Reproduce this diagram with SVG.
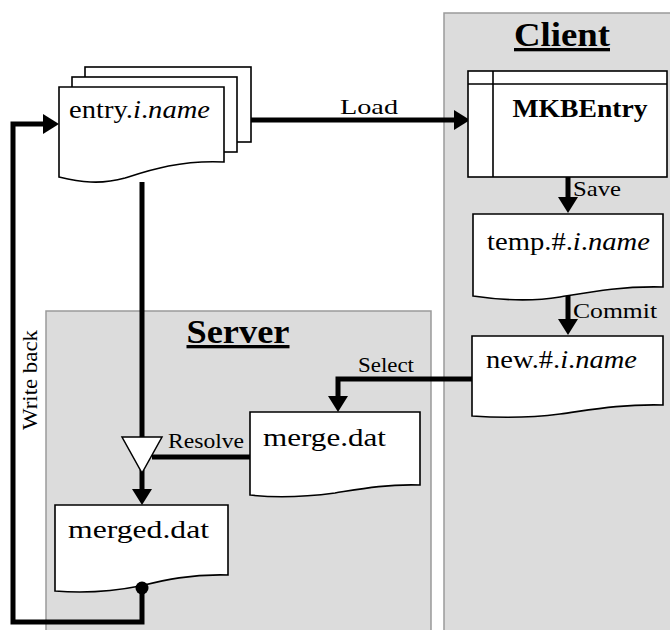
<svg xmlns="http://www.w3.org/2000/svg" width="670" height="630" viewBox="0 0 670 630">
<style>
.panel{fill:#dcdcdc;stroke:#9a9a9a;stroke-width:1.5}
.doc{fill:#fff;stroke:#000;stroke-width:1.6}
.t{font-family:"Liberation Serif","DejaVu Serif",serif;fill:#000}
.big{font-size:26px}
.lbl{font-size:22px}
.ttl{font-size:33px;font-weight:bold;text-decoration:underline}
.it{font-style:italic}
.con{fill:none;stroke:#000;stroke-width:5}
</style>
<defs>
<marker id="ah" viewBox="0 0 16 20" refX="0" refY="10" markerWidth="16" markerHeight="20" markerUnits="userSpaceOnUse" orient="auto">
<path d="M0,0 L16,10 L0,20 z" fill="#000"/>
</marker>
</defs>
<rect width="670" height="630" fill="#fff"/>
<g id="client-panel">
<rect class="panel" x="444" y="13" width="240" height="630"/>
<text class="t ttl" x="562" y="46" text-anchor="middle" textLength="96" lengthAdjust="spacingAndGlyphs">Client</text>
</g>
<g id="server-panel">
<rect class="panel" x="46" y="311" width="385" height="330"/>
<text class="t ttl" x="238" y="343" text-anchor="middle" textLength="103" lengthAdjust="spacingAndGlyphs">Server</text>
</g>
<g id="connectors">
<path class="con" d="M251,120 H454" marker-end="url(#ah)"/>
<text class="t lbl" x="369" y="114" text-anchor="middle" textLength="58" lengthAdjust="spacingAndGlyphs">Load</text>
<path class="con" d="M568,177 V197" marker-end="url(#ah)"/>
<text class="t lbl" x="573" y="196" textLength="48" lengthAdjust="spacingAndGlyphs">Save</text>
<path class="con" d="M568,291 V319" marker-end="url(#ah)"/>
<text class="t lbl" x="573" y="318" textLength="84" lengthAdjust="spacingAndGlyphs">Commit</text>
<path class="con" d="M472,379 H338 V396" marker-end="url(#ah)"/>
<text class="t lbl" x="386" y="372" text-anchor="middle" textLength="56" lengthAdjust="spacingAndGlyphs">Select</text>
<path class="con" d="M142,182 V438"/>
<path class="con" d="M250,457 H152"/>
<text class="t lbl" x="206" y="448" text-anchor="middle" textLength="76" lengthAdjust="spacingAndGlyphs">Resolve</text>
<path class="con" d="M142,470 V489" marker-end="url(#ah)"/>
<path class="con" d="M142,588 V622 H13 V124 H43" marker-end="url(#ah)"/>
<text class="t lbl" transform="translate(37,380) rotate(-90)" text-anchor="middle" textLength="100" lengthAdjust="spacingAndGlyphs">Write back</text>
</g>
<g id="entry">
<rect class="doc" x="85" y="67" width="166" height="75"/>
<rect class="doc" x="72" y="77" width="165" height="75"/>
<path class="doc" d="M59,87 H224 V162 C180,160 150,170 125,178 C100,185 80,182 59,177 Z"/>
<text class="t big" x="69" y="118" textLength="141" lengthAdjust="spacingAndGlyphs">entry.<tspan class="it">i</tspan>.<tspan class="it">name</tspan></text>
</g>
<g id="mkbentry">
<rect class="doc" x="468" y="71" width="199" height="106"/>
<path d="M468,84 H667 M493,71 V177" stroke="#000" stroke-width="1.6" fill="none"/>
<text class="t big" x="580" y="117" text-anchor="middle" font-weight="bold" textLength="135" lengthAdjust="spacingAndGlyphs">MKBEntry</text>
</g>
<g id="temp">
<path class="doc" d="M473,214 H663 V287 C620,286 590,292 560,297 C530,302 500,300 473,296 Z"/>
<text class="t big" x="487" y="250" textLength="163" lengthAdjust="spacingAndGlyphs">temp.#.<tspan class="it">i</tspan>.<tspan class="it">name</tspan></text>
</g>
<g id="new">
<path class="doc" d="M472,336 H663 V405 C620,404 590,410 560,414 C530,418 500,418 472,416 Z"/>
<text class="t big" x="486" y="368" textLength="151" lengthAdjust="spacingAndGlyphs">new.#.<tspan class="it">i</tspan>.<tspan class="it">name</tspan></text>
</g>
<g id="merge">
<path class="doc" d="M250,412 H420 V485 C385,484 360,489 335,493 C305,497 275,498 250,495 Z"/>
<text class="t big" x="263" y="446" textLength="123" lengthAdjust="spacingAndGlyphs">merge.dat</text>
</g>
<g id="resolve">
<polygon points="122,437 162,437 142,473" fill="#fff" stroke="#000" stroke-width="1.5"/>
</g>
<g id="merged">
<path class="doc" d="M55,505 H228 V575 C190,574 165,580 140,586 C110,592 80,593 55,591 Z"/>
<text class="t big" x="68" y="538" textLength="141" lengthAdjust="spacingAndGlyphs">merged.dat</text>
<circle cx="142" cy="588" r="6.5" fill="#000"/>
</g>
</svg>
